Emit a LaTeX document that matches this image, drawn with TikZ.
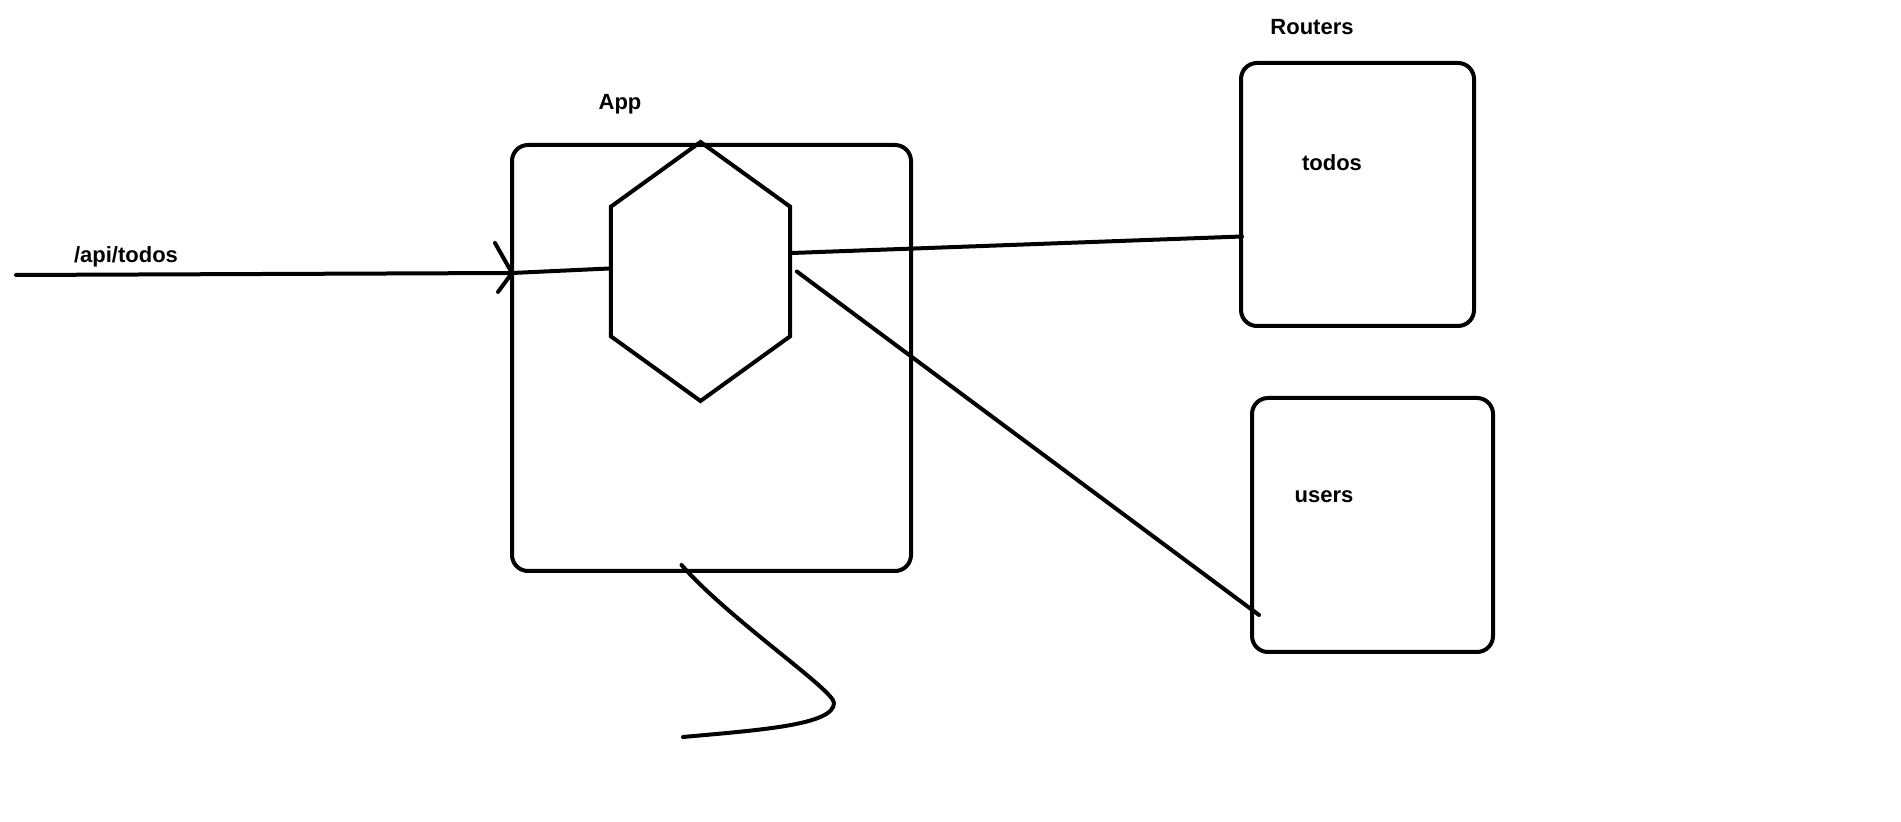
\documentclass[tikz,border=0pt]{standalone}
\usepackage{fontspec}
\setmainfont{Liberation Sans}
\usetikzlibrary{shapes.geometric,calc}
\begin{document}
\begin{tikzpicture}[x=0.5pt,y=-0.5pt,
  every path/.style={line width=2pt},
  box/.style={draw,rectangle,rounded corners=8pt,inner sep=0pt},
  lbl/.style={font=\bfseries\fontsize{11pt}{13pt}\selectfont,anchor=base,inner sep=0pt},
  conn/.style={draw,line cap=round,line join=round}]
\useasboundingbox[fill=white] (0,0) rectangle (1901,822);
% boxes
\node[box,minimum width=199.5pt,minimum height=213pt] (app) at (711.5,358) {};
\node[box,minimum width=116.5pt,minimum height=131.5pt] (todos) at (1357.5,194.5) {};
\node[box,minimum width=120.5pt,minimum height=127pt] (users) at (1372.5,525) {};
% hexagon
\node[draw,regular polygon,regular polygon sides=6,shape border rotate=30,
      minimum size=129.5pt,inner sep=0pt,xscale=0.8] (hex) at (700.5,271.5) {};
% labels
\node[lbl] (lapp) at (620,110) {App};
\node[lbl] (lrouters) at (1312,35) {Routers};
\node[lbl] (ltodos) at (1332,171) {todos};
\node[lbl] (lusers) at (1324,503) {users};
\node[lbl] (lapi) at (126,263) {/api/todos};
% connectors
\coordinate (src) at (16,275);
\coordinate (appin) at ($(app.west)+(2,-85)$);
\draw[conn] (src) -- (appin) -- ([yshift=1.5pt]hex.west);
\draw[conn] (appin) -- +(-17,-30);
\draw[conn] (appin) -- +(-14,19);
\draw[conn] ([yshift=9.25pt]hex.east) -- ($(todos.west)+(3,42)$);
\draw[conn] ([xshift=2.5pt]hex.east) -- ($(users.west)+(9,90)$);
\coordinate (tail) at (683,737);
\draw[conn] ($(app.south)+(-30,-8)$) .. controls (730,620) and (834,690) .. (834,703)
  .. controls (834,725) and (760,730) .. (tail);
\end{tikzpicture}
\end{document}
